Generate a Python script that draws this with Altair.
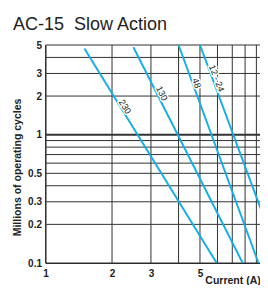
import altair as alt
import pandas as pd

# Curves (start/end points), log-log straight lines
series = ["230", "130", "48", "12 - 24"]
x_start = [1.5, 2.5, 4.0, 5.0]
y_start = [4.7, 4.8, 5.0, 5.0]
x_end = [5.95, 7.8, 9.2, 10.0]
y_end = [0.1, 0.1, 0.1, 0.2]

# Curve labels
label_x = [2.29, 3.36, 4.83, 5.95]
label_y = [1.65, 2.10, 2.52, 2.75]
label_angle = [58, 63, 70, 69]

x_grid = [1, 2, 3, 4, 5, 6, 7, 8, 9, 10]
y_grid = [0.1, 0.2, 0.3, 0.4, 0.5, 0.6, 0.7, 0.8, 0.9, 1, 2, 3, 4, 5]
x_ticks = [1, 2, 3, 5, 10]
y_ticks = [0.1, 0.2, 0.3, 0.5, 1, 2, 3, 5]

FONT = "Liberation Sans"
BLUE = "#12ADE6"

rows = []
for s, x0, y0, x1, y1 in zip(series, x_start, y_start, x_end, y_end):
    rows.append({"series": s, "x": x0, "y": y0, "o": 0})
    rows.append({"series": s, "x": x1, "y": y1, "o": 1})
lines_df = pd.DataFrame(rows)
labels_df = pd.DataFrame({"series": series, "x": label_x, "y": label_y, "angle": label_angle})
xg_df = pd.DataFrame({"x": x_grid})
yg_df = pd.DataFrame({"y": y_grid, "w": [2 if v == 1 else 1 for v in y_grid]})

xs = alt.Scale(type="log", domain=[1, 10], nice=False)
ys = alt.Scale(type="log", domain=[0.1, 5], nice=False)

x_axis = alt.Axis(values=x_ticks, format="~g", grid=False, ticks=False,
                  domainColor="#222", labelFont=FONT, labelFontSize=10, labelFontWeight="bold",
                  labelColor="#222", labelPadding=5, labelFlush=False,
                  title="Current (A)", titleFont=FONT, titleFontSize=10.5, titleFontWeight="bold",
                  titleColor="#222", titleX=187, titleY=17, titleAlign="center", titleBaseline="middle")
y_axis = alt.Axis(values=y_ticks, format="~g", grid=False, ticks=False,
                  domainColor="#222", labelFont=FONT, labelFontSize=10, labelFontWeight="bold",
                  labelColor="#222", labelPadding=4, labelFlush=False,
                  title="Millions of operating cycles", titleFont=FONT, titleFontSize=10.5,
                  titleFontWeight="bold", titleColor="#222", titleX=-28, titleY=122,
                  titleAngle=-90, titleAlign="center", titleBaseline="middle")

xgrid = alt.Chart(xg_df).mark_rule(color="#333", strokeWidth=1).encode(
    x=alt.X("x:Q", scale=xs, axis=x_axis))
ygrid = alt.Chart(yg_df).mark_rule(color="#333").encode(
    y=alt.Y("y:Q", scale=ys, axis=y_axis),
    strokeWidth=alt.StrokeWidth("w:Q", scale=None, legend=None))

lines = alt.Chart(lines_df).mark_line(strokeWidth=1.9, color=BLUE, clip=True).encode(
    x=alt.X("x:Q", scale=xs),
    y=alt.Y("y:Q", scale=ys),
    detail="series:N",
    order="o:Q")

halo = alt.Chart(labels_df).mark_text(font=FONT, fontSize=9, stroke="white", strokeWidth=3,
                                      fill="white", align="center", baseline="middle").encode(
    x=alt.X("x:Q", scale=xs), y=alt.Y("y:Q", scale=ys), text="series:N",
    angle=alt.Angle("angle:Q", scale=None))
txt = alt.Chart(labels_df).mark_text(font=FONT, fontSize=9, color="#222",
                                     align="center", baseline="middle").encode(
    x=alt.X("x:Q", scale=xs), y=alt.Y("y:Q", scale=ys), text="series:N",
    angle=alt.Angle("angle:Q", scale=None))

chart = alt.layer(xgrid, ygrid, lines, halo, txt).properties(
    width=221, height=218,
    autosize=alt.AutoSizeParams(type="none"),
    padding={"left": 37.5, "top": 37, "right": -6.5, "bottom": 22},
    title=alt.TitleParams("AC-15\u00a0 Slow Action", anchor="start", frame="group", dx=-32.5,
                          font=FONT, fontSize=18, fontWeight="normal", color="#222",
                          baseline="top", offset=6),
).configure_view(stroke=None)

chart.save("out.html", embed_options={"renderer": "svg", "actions": False})
